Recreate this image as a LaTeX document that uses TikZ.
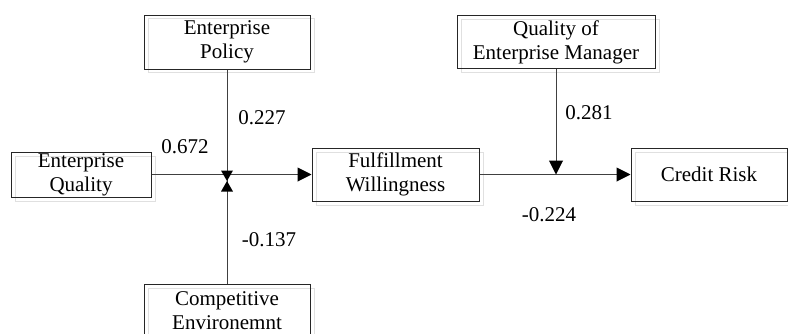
\documentclass[tikz,border=0pt]{standalone}
\usepackage{fontspec}
\setmainfont{Liberation Serif}
\usetikzlibrary{arrows.meta}
\begin{document}
\begin{tikzpicture}[x=1pt,y=-1pt,
  txt/.style={font=\fontsize{21}{24}\selectfont},
  box/.style={txt, draw=black!85, line width=1pt, inner sep=0pt, align=center},
  shadowbox/.style={draw=black!12, line width=1pt, inner sep=0pt},
  link/.style={draw=black!75, line width=1pt},
  tip/.style={-{Triangle[length=14pt,width=14pt,black]}},
  head/.style={fill=black, draw=none},
  num/.style={txt, inner sep=0pt}]
\useasboundingbox (0,0) rectangle (788,333);
\clip (0,0) rectangle (788,333);

% soft shadows behind the boxes
\node[shadowbox, minimum width=166pt, minimum height=54pt] (sEP) at (231,45) {};
\node[shadowbox, minimum width=140pt, minimum height=45pt] (sEQ) at (85,178.5) {};
\node[shadowbox, minimum width=167pt, minimum height=53pt] (sFW) at (399.5,178.5) {};
\node[shadowbox, minimum width=156pt, minimum height=53pt] (sCR) at (713,178.5) {};
\node[shadowbox, minimum width=198pt, minimum height=53pt] (sQEM) at (560,45.5) {};
\node[shadowbox, minimum width=166pt, minimum height=54pt] (sCE) at (231,315) {};

% boxes
\node[box, minimum width=166pt, minimum height=54pt] (EP) at (227,42) {Enterprise\\Policy};
\node[box, minimum width=140pt, minimum height=45pt] (EQ) at (81,174.5) {Enterprise\\Quality};
\node[box, minimum width=167pt, minimum height=53pt] (FW) at (395.5,174.5) {Fulfillment\\Willingness};
\node[box, minimum width=156pt, minimum height=53pt] (CR) at (709,174.5) {Credit Risk};
\node[box, minimum width=198pt, minimum height=53pt] (QEM) at (556,42) {Quality of\\Enterprise Manager};
\node[box, minimum width=166pt, minimum height=54pt] (CE) at (227,311) {Competitive\\Environemnt};

% moderation points
\coordinate (j1) at (227,181);
\coordinate (j2) at (QEM.south |- FW.east);

% connectors
\draw[link, tip] (EQ.east) -- (FW.west);
\draw[link] (EP.south) -- (j1);
\draw[link] (CE.north) -- (j1);
\draw[link, tip] (FW.east) -- (CR.west);
\draw[link, tip] (QEM.south) -- (j2);

% the two heads meeting at the first moderation point
\fill[head] (j1) -- ++(-6,-10.5) -- ++(12,0) -- cycle;
\fill[head] (j1) -- ++(-6,10.5) -- ++(12,0) -- cycle;

% path coefficients
\node[num] (c1) at (262,118) {0.227};
\node[num] (c2) at (185,147) {0.672};
\node[num] (c3) at (269,240) {-0.137};
\node[num] (c4) at (589,113) {0.281};
\node[num] (c5) at (549,215) {-0.224};
\end{tikzpicture}
\end{document}
